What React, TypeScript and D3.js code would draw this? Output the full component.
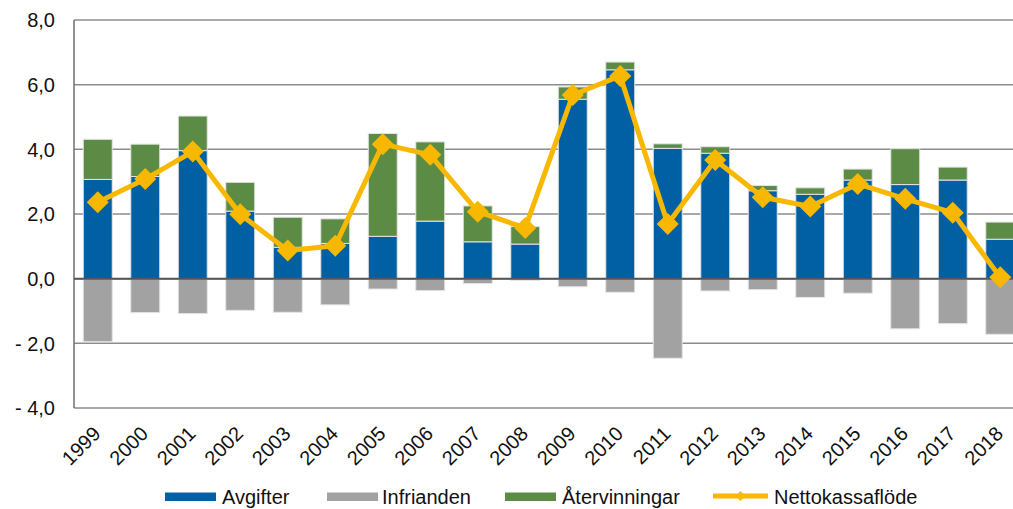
import React from "react";
import * as d3 from "d3";

const years = ["1999","2000","2001","2002","2003","2004","2005","2006","2007","2008","2009","2010","2011","2012","2013","2014","2015","2016","2017","2018"];
const avgifter = [3.07,3.16,3.96,2.09,0.97,1.09,1.31,1.78,1.14,1.07,5.55,6.46,4.03,3.88,2.72,2.61,3.05,2.91,3.05,1.22];
const aterv = [1.24,1.0,1.07,0.89,0.93,0.76,3.18,2.45,1.11,0.54,0.38,0.24,0.14,0.2,0.16,0.2,0.34,1.11,0.4,0.53];
const infrianden = [-1.95,-1.05,-1.08,-0.98,-1.04,-0.81,-0.32,-0.37,-0.15,-0.05,-0.25,-0.42,-2.46,-0.38,-0.34,-0.58,-0.45,-1.55,-1.39,-1.72];
const netto = [2.36,3.08,3.93,1.99,0.87,1.02,4.16,3.83,2.07,1.57,5.68,6.27,1.69,3.67,2.52,2.23,2.93,2.47,2.04,0.04];
const yTicks = [8,6,4,2,0,-2,-4];
const yTickLabels = ["8,0","6,0","4,0","2,0","0,0","- 2,0","- 4,0"];

const C_BLUE = "#0060A3";
const C_GRAY = "#A2A2A2";
const C_GREEN = "#5B8B45";
const C_YEL = "#F9B800";
const FONT = "'Liberation Sans', Arial, Helvetica, sans-serif";

export default function App() {
  const W = 1013, H = 509;
  const left = 74, right = 1024, top = 20, bottom = 408;
  const x = d3.scaleBand<string>().domain(years).range([left, right]).padding(0);
  const step = x.step();
  const bw = step * 0.61;
  const y = d3.scaleLinear().domain([-4, 8]).range([bottom, top]);
  const cx = (yr: string) => (x(yr) as number) + step / 2;
  const line = d3.line<number>().x((_, i) => cx(years[i])).y((d) => y(d));
  const dm = 11;

  const legend = [
    { label: "Avgifter", color: C_BLUE, sx: 165, tx: 222, type: "bar" },
    { label: "Infrianden", color: C_GRAY, sx: 327, tx: 382, type: "bar" },
    { label: "Återvinningar", color: C_GREEN, sx: 505, tx: 562, type: "bar" },
    { label: "Nettokassaflöde", color: C_YEL, sx: 713, tx: 774, type: "line" },
  ];

  return (
    <div style={{ position: "absolute", left: 0, top: 0 }}>
      <svg width={W} height={H} style={{ display: "block", background: "#fff" }}>
        {/* grid */}
        {yTicks.map((t) => (
          <line key={"g" + t} x1={left} x2={W} y1={y(t)} y2={y(t)} stroke="#8c8c8c" strokeWidth={1.5} />
        ))}
        <line x1={left} x2={left} y1={top} y2={bottom} stroke="#6e6e6e" strokeWidth={1.5} />
        {/* bars */}
        {years.map((yr, i) => {
          const bx = (x(yr) as number) + (step - bw) / 2;
          return (
            <g key={yr} stroke="#e4e4e4" strokeWidth={1}>
              <rect x={bx} width={bw} y={y(avgifter[i])} height={y(0) - y(avgifter[i])} fill={C_BLUE} />
              <rect x={bx} width={bw} y={y(avgifter[i] + aterv[i])} height={y(avgifter[i]) - y(avgifter[i] + aterv[i])} fill={C_GREEN} />
              <rect x={bx} width={bw} y={y(0)} height={y(infrianden[i]) - y(0)} fill={C_GRAY} />
            </g>
          );
        })}
        <line x1={left} x2={W} y1={y(0)} y2={y(0)} stroke="#555" strokeWidth={2} />
        {/* net line */}
        <path d={line(netto) || ""} fill="none" stroke={C_YEL} strokeWidth={5} strokeLinejoin="round" />
        {netto.map((v, i) => {
          const px = cx(years[i]), py = y(v);
          return <path key={"d" + i} d={`M${px},${py - dm}L${px + dm},${py}L${px},${py + dm}L${px - dm},${py}Z`} fill={C_YEL} />;
        })}
        {/* y axis labels */}
        {yTicks.map((t, i) => (
          <text key={"yl" + t} x={55} y={y(t)} dy="0.36em" textAnchor="end" fontFamily={FONT} fontSize={20} fill="#111">
            {yTickLabels[i]}
          </text>
        ))}
        {/* x labels */}
        {years.map((yr) => (
          <text key={"xl" + yr} transform={`translate(${cx(yr) + 4},${bottom + 27}) rotate(-45)`} textAnchor="end" fontFamily={FONT} fontSize={20} fill="#111">
            {yr}
          </text>
        ))}
        {/* legend */}
        {legend.map((l) => (
          <g key={l.label}>
            {l.type === "bar" ? (
              <rect x={l.sx} y={492.5} width={51} height={8.5} fill={l.color} />
            ) : (
              <g>
                <line x1={l.sx} x2={l.sx + 55} y1={496} y2={496} stroke={l.color} strokeWidth={5} />
                <path d={`M${l.sx + 27.5},${491}L${l.sx + 32.5},${496}L${l.sx + 27.5},${501}L${l.sx + 22.5},${496}Z`} fill={l.color} />
              </g>
            )}
            <text x={l.tx} y={504} fontFamily={FONT} fontSize={20} fill="#111">{l.label}</text>
          </g>
        ))}
      </svg>
    </div>
  );
}
